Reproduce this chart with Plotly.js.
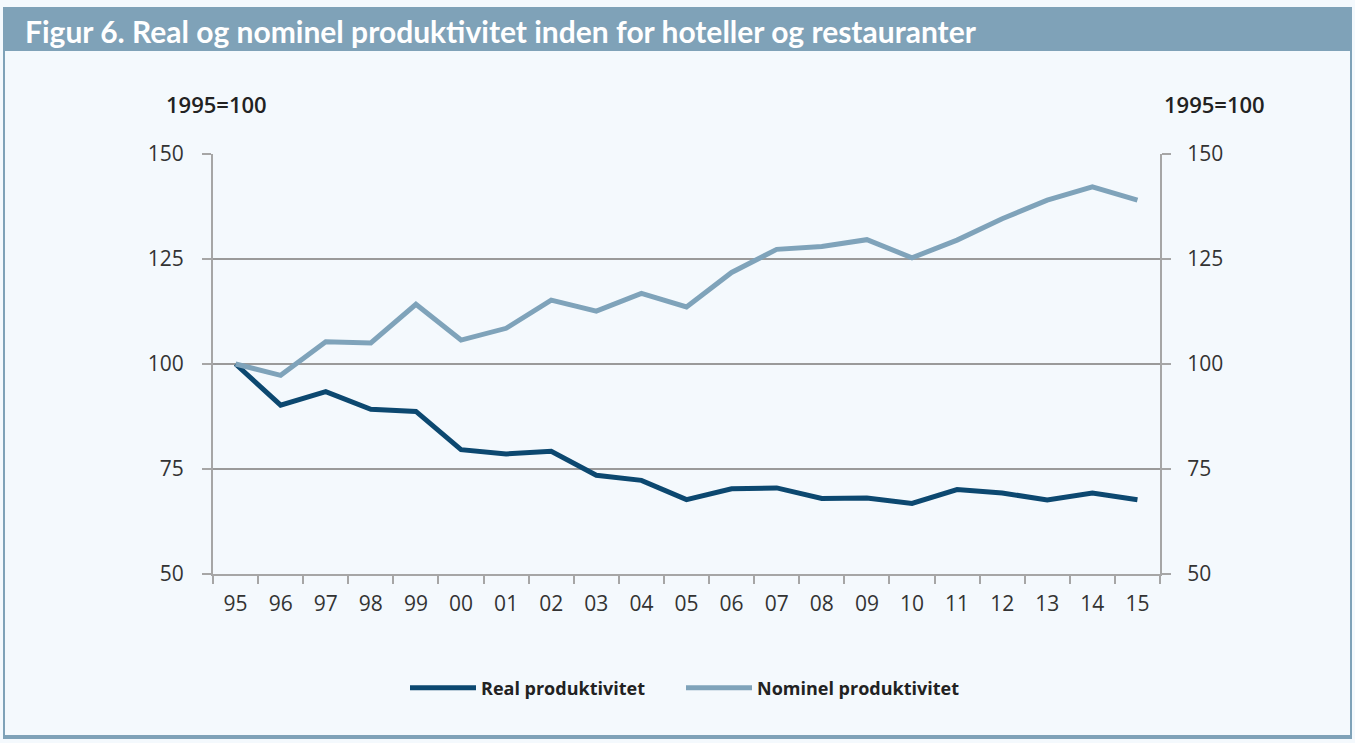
<!DOCTYPE html>
<html>
<head>
<meta charset="utf-8">
<script src="https://cdn.plot.ly/plotly-3.0.1.min.js"></script>
<style>
html,body{margin:0;padding:0;background:#fff;}
#chart{width:1355px;height:743px;}
</style>
</head>
<body>
<div id="chart"></div>
<script>
const years = ["95","96","97","98","99","00","01","02","03","04","05","06","07","08","09","10","11","12","13","14","15"];
const realProd = [100,90.2,93.4,89.2,88.7,79.6,78.6,79.2,73.5,72.3,67.7,70.3,70.5,68.0,68.1,66.8,70.1,69.3,67.6,69.3,67.7];
const nominelProd = [100,97.3,105.3,105.0,114.2,105.7,108.5,115.2,112.6,116.8,113.6,121.8,127.3,128.0,129.6,125.3,129.5,134.6,139.0,142.2,139.0];
const yTicks = [50,75,100,125,150];
const titleText = "Figur 6. Real og nominel produktivitet inden for hoteller og restauranter";
const unitLabel = "1995=100";

const tickFont = {family: "Open Sans, sans-serif", size: 21, color: "#333333"};
const gridColor = "#9a9a9a";
const axisColor = "#a6a6a6";

const traces = [
  {x: years, y: realProd, name: "Real produktivitet", type: "scatter", mode: "lines",
   line: {color: "#0c4870", width: 5}, legendwidth: 195},
  {x: years, y: nominelProd, name: "Nominel produktivitet", type: "scatter", mode: "lines",
   line: {color: "#7fa3ba", width: 5}, yaxis: "y2", legendwidth: 240}
];

const px2x = p => (p - 213) / 947;
const px2y = p => (574 - p) / 420;

const layout = {
  width: 1355, height: 743,
  margin: {l: 213, r: 195, t: 154, b: 169},
  paper_bgcolor: "#f4f9fd",
  plot_bgcolor: "rgba(0,0,0,0)",
  showlegend: true,
  xaxis: {
    type: "category",
    range: [-0.5, 20.5],
    tickson: "boundaries",
    ticks: "outside", ticklen: 8, tickwidth: 2, tickcolor: axisColor,
    showline: true, linecolor: axisColor, linewidth: 2,
    showgrid: false, zeroline: false,
    tickfont: tickFont, ticklabelstandoff: 10
  },
  yaxis: {
    range: [50, 150], tickvals: yTicks,
    ticks: "outside", ticklen: 9, tickwidth: 2, tickcolor: axisColor,
    showline: true, linecolor: axisColor, linewidth: 2,
    showgrid: true, gridcolor: gridColor, gridwidth: 1.5,
    zeroline: false, tickfont: tickFont, ticklabelstandoff: 14
  },
  yaxis2: {
    range: [50, 150], tickvals: yTicks, overlaying: "y", side: "right",
    ticks: "outside", ticklen: 9, tickwidth: 2, tickcolor: axisColor,
    showline: true, linecolor: axisColor, linewidth: 2,
    showgrid: false, zeroline: false, tickfont: tickFont, ticklabelstandoff: 12
  },
  legend: {
    orientation: "h", x: px2x(405), xanchor: "left", y: px2y(688), yanchor: "middle",
    bgcolor: "rgba(0,0,0,0)",
    font: {family: "Open Sans, sans-serif", size: 18, color: "#222222", weight: "bold"},
    itemwidth: 66
  },
  shapes: [
    {type: "rect", xref: "paper", yref: "paper", x0: px2x(3), x1: px2x(1352), y0: px2y(51), y1: px2y(7),
     fillcolor: "#7fa2b8", line: {width: 0}, layer: "below"},
    {type: "line", xref: "paper", yref: "paper", x0: px2x(4), x1: px2x(4), y0: px2y(737), y1: px2y(7),
     line: {color: "#7fa2b8", width: 2}},
    {type: "line", xref: "paper", yref: "paper", x0: px2x(1351), x1: px2x(1351), y0: px2y(737), y1: px2y(7),
     line: {color: "#7fa2b8", width: 2}},
    {type: "line", xref: "paper", yref: "paper", x0: px2x(3), x1: px2x(1352), y0: px2y(737), y1: px2y(737),
     line: {color: "#7fa2b8", width: 4}}
  ],
  annotations: [
    {text: "<b>" + titleText + "</b>", xref: "paper", yref: "paper", x: px2x(23), y: px2y(31),
     xanchor: "left", yanchor: "middle", showarrow: false,
     font: {family: "Lato, sans-serif", size: 30, color: "#ffffff"}},
    {text: unitLabel, xref: "paper", yref: "paper", x: px2x(164), y: px2y(104),
     xanchor: "left", yanchor: "middle", showarrow: false,
     font: {family: "Open Sans, sans-serif", size: 22, color: "#222222", weight: 600}},
    {text: unitLabel, xref: "paper", yref: "paper", x: px2x(1162), y: px2y(104),
     xanchor: "left", yanchor: "middle", showarrow: false,
     font: {family: "Open Sans, sans-serif", size: 22, color: "#222222", weight: 600}}
  ]
};

Plotly.newPlot("chart", traces, layout, {displayModeBar: false, staticPlot: true});
</script>
</body>
</html>
